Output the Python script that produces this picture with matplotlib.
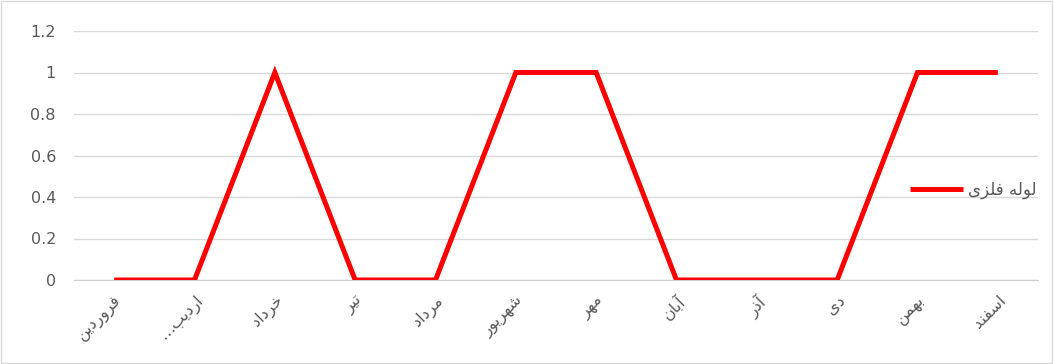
import matplotlib
matplotlib.use("Agg")
import matplotlib.pyplot as plt
from matplotlib.patches import Rectangle

# Persian month names (logical order) and values
months = ["فروردین", "اردیب…", "خرداد", "تیر", "مرداد", "شهریور",
          "مهر", "آبان", "آذر", "دی", "بهمن", "اسفند"]
values = [0, 0, 1, 0, 0, 1, 1, 0, 0, 0, 1, 1]
series_name = "لوله فلزی"
y_ticks = [0, 0.2, 0.4, 0.6, 0.8, 1, 1.2]

# contextual forms: isolated, final, initial, medial (None = no left join)
FORMS = {
    "ا": (0xFE8D, 0xFE8E, None, None), "آ": (0xFE81, 0xFE82, None, None),
    "ب": (0xFE8F, 0xFE90, 0xFE91, 0xFE92), "ت": (0xFE95, 0xFE96, 0xFE97, 0xFE98),
    "خ": (0xFEA5, 0xFEA6, 0xFEA7, 0xFEA8), "د": (0xFEA9, 0xFEAA, None, None),
    "ذ": (0xFEAB, 0xFEAC, None, None), "ر": (0xFEAD, 0xFEAE, None, None),
    "ز": (0xFEAF, 0xFEB0, None, None), "س": (0xFEB1, 0xFEB2, 0xFEB3, 0xFEB4),
    "ش": (0xFEB5, 0xFEB6, 0xFEB7, 0xFEB8), "ف": (0xFED1, 0xFED2, 0xFED3, 0xFED4),
    "ق": (0xFED5, 0xFED6, 0xFED7, 0xFED8), "ل": (0xFEDD, 0xFEDE, 0xFEDF, 0xFEE0),
    "م": (0xFEE1, 0xFEE2, 0xFEE3, 0xFEE4), "ن": (0xFEE5, 0xFEE6, 0xFEE7, 0xFEE8),
    "ه": (0xFEE9, 0xFEEA, 0xFEEB, 0xFEEC), "و": (0xFEED, 0xFEEE, None, None),
    "ی": (0xFBFC, 0xFBFD, 0xFBFE, 0xFBFF),
}


def shape(text):
    # simple Persian shaping + reversal so matplotlib draws it right-to-left
    out = []
    for i, ch in enumerate(text):
        if ch not in FORMS:
            out.append(ch)
            continue
        prev = text[i - 1] if i > 0 else ""
        nxt = text[i + 1] if i + 1 < len(text) else ""
        join_prev = prev in FORMS and FORMS[prev][2] is not None
        join_next = nxt in FORMS and FORMS[ch][2] is not None
        iso, fin, ini, med = FORMS[ch]
        if join_prev and join_next:
            code = med
        elif join_prev:
            code = fin
        elif join_next:
            code = ini
        else:
            code = iso
        out.append(chr(code))
    return "".join(reversed(out))


plt.rcParams["font.family"] = ["DejaVu Sans"]
fig = plt.figure(figsize=(10.54, 3.64), dpi=100)
ax = fig.add_axes([74 / 1054, 1 - 280 / 364, (1038 - 74) / 1054, 249 / 364])

x = list(range(len(months)))
ax.plot(x, values, color="#FF0000", linewidth=3.6, solid_joinstyle="miter",
        solid_capstyle="butt", label=shape(series_name), zorder=3)

ax.set_xlim(-0.5, len(months) - 0.5)
ax.set_ylim(0, 1.2)
ax.set_yticks(y_ticks)
ax.set_yticklabels(["0", "0.2", "0.4", "0.6", "0.8", "1", "1.2"])
ax.set_xticks(x)
ax.set_xticklabels([shape(m) for m in months], rotation=45, ha="right",
                   rotation_mode="anchor", fontsize=11.5, color="#595959")
ax.tick_params(axis="y", length=0, pad=13, labelsize=11.5, labelcolor="#595959")
ax.tick_params(axis="x", length=0, pad=9)
ax.grid(axis="y", color="#D9D9D9", linewidth=1)
ax.set_axisbelow(True)
for side in ["top", "right", "left"]:
    ax.spines[side].set_visible(False)
ax.spines["bottom"].set_color("#D0D0D0")

ax.legend(loc="center left", bbox_to_anchor=(895 / 1054, 1 - 190 / 364),
          bbox_transform=fig.transFigure, frameon=False, fontsize=12,
          handlelength=3.2, handletextpad=0.3, labelcolor="#595959")

fig.patches.append(Rectangle((0.001, 0.002), 0.997, 0.995, transform=fig.transFigure,
                             fill=False, edgecolor="#D9D9D9", linewidth=1))

fig.savefig("out.png", dpi=100)
